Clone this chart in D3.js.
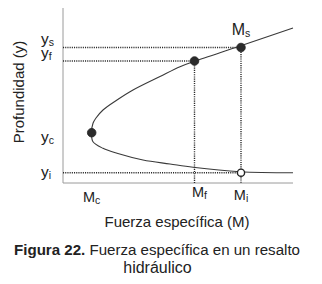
<!DOCTYPE html>
<html>
<head>
<meta charset="utf-8">
<script src="https://cdn.jsdelivr.net/npm/d3@7"></script>
<style>
  body { margin: 0; background: #fff; }
  svg { display: block; font-family: "Liberation Sans", Arial, sans-serif; }
</style>
</head>
<body>
<svg class="chart"></svg>
<script>
// Curve: specific force M against depth y (arbitrary units)
var curveM = [23.0, 17.7, 13.1, 11.7, 9.7, 7.0, 5.4, 4.0, 3.3, 3.0, 2.85, 3.0, 4.0, 5.4, 8.0, 10.7, 13.0, 17.7, 23.0];
var curveY = [15.5, 13.7, 12.15, 11.63, 10.65, 9.3, 8.3, 7.3, 6.5, 5.97, 5.0, 4.13, 3.47, 2.97, 2.3, 1.9, 1.57, 1.13, 1.03];

// Marked states on the curve
var pointNames = ['c', 'f', 's', 'i'];
var pointM = [2.87, 13.15, 17.8, 17.8];
var pointY = [5.03, 12.2, 13.55, 1.03];
var pointOpen = [false, false, false, true];

var axisTitleX = 'Fuerza específica (M)';
var axisTitleY = 'Profundidad (y)';
var captionBold = 'Figura 22.';
var captionRest = ' Fuerza específica en un resalto';
var captionLine2 = 'hidráulico';

// Global setup
var width = 322;
var height = 284;
var plot = {left: 63, right: 293, top: 8, bottom: 183};

var svg = d3.select('.chart')
  .attr('width', width)
  .attr('height', height);

var x = d3.scaleLinear().domain([0, 23]).range([plot.left, plot.right]);
var y = d3.scaleLinear().domain([0, 17.5]).range([plot.bottom, plot.top]);

var points = pointNames.map(function (n, i) {
  return {name: n, M: pointM[i], y: pointY[i], open: pointOpen[i]};
});
var byName = {};
points.forEach(function (p) { byName[p.name] = p; });

// Axes: plain lines, no ticks
svg.append('line')
  .attr('x1', x(0)).attr('x2', x(0))
  .attr('y1', y(0)).attr('y2', y(17.5))
  .attr('stroke', '#9a9a9a').attr('stroke-width', 1);
svg.append('line')
  .attr('x1', x(0)).attr('x2', x(23))
  .attr('y1', y(0)).attr('y2', y(0))
  .attr('stroke', '#9a9a9a').attr('stroke-width', 1);

// Dotted guides
var guides = [
  {x1: 0, y1: byName.s.y, x2: byName.s.M, y2: byName.s.y},
  {x1: 0, y1: byName.f.y, x2: byName.f.M, y2: byName.f.y},
  {x1: 0, y1: byName.i.y, x2: byName.i.M, y2: byName.i.y},
  {x1: byName.f.M, y1: byName.f.y, x2: byName.f.M, y2: 0},
  {x1: byName.s.M, y1: byName.s.y, x2: byName.s.M, y2: 0}
];
svg.selectAll('.guide')
  .data(guides)
  .enter()
  .append('line')
  .attr('class', 'guide')
  .attr('x1', function (d) { return x(d.x1); })
  .attr('y1', function (d) { return y(d.y1); })
  .attr('x2', function (d) { return x(d.x2); })
  .attr('y2', function (d) { return y(d.y2); })
  .attr('stroke', '#2a2a2a')
  .attr('stroke-width', 1.4)
  .attr('stroke-dasharray', '1.1,1.1');

// Curve
var line = d3.line()
  .x(function (d) { return x(d[0]); })
  .y(function (d) { return y(d[1]); })
  .curve(d3.curveCatmullRom.alpha(0.5));

svg.append('path')
  .datum(curveM.map(function (m, i) { return [m, curveY[i]]; }))
  .attr('d', line)
  .attr('fill', 'none')
  .attr('stroke', '#3a3a3a')
  .attr('stroke-width', 1.1);

// Dots
svg.selectAll('.pt')
  .data(points)
  .enter()
  .append('circle')
  .attr('class', 'pt')
  .attr('cx', function (d) { return x(d.M); })
  .attr('cy', function (d) { return y(d.y); })
  .attr('r', function (d) { return d.open ? 3.6 : 4.3; })
  .attr('fill', function (d) { return d.open ? '#fff' : '#2b2b2b'; })
  .attr('stroke', '#222')
  .attr('stroke-width', function (d) { return d.open ? 1.4 : 0.8; });

// Depth labels on the left, offsets placed by eye
var yLabelDy = {s: -4, f: -3.5, c: 8.8, i: 4};
var yLabels = svg.selectAll('.ylab')
  .data(points)
  .enter()
  .append('text')
  .attr('class', 'ylab')
  .attr('x', x(0) - 22)
  .attr('y', function (d) { return y(d.y) + yLabelDy[d.name]; })
  .attr('font-size', 15.5)
  .attr('fill', '#222');
yLabels.append('tspan').text('y');
yLabels.append('tspan')
  .attr('font-size', 10.5)
  .attr('dy', 2)
  .text(function (d) { return d.name; });

// Force labels
var mLabelY = {c: 202, f: 196.7, i: 200, s: 35};
var mLabels = svg.selectAll('.mlab')
  .data(points)
  .enter()
  .append('text')
  .attr('class', 'mlab')
  .attr('x', function (d) { return x(d.M) + (d.name === 'f' ? 5 : 0); })
  .attr('y', function (d) { return mLabelY[d.name]; })
  .attr('text-anchor', 'middle')
  .attr('font-size', function (d) { return d.name === 's' ? 16 : 14.5; })
  .attr('fill', '#222');
mLabels.append('tspan').text('M');
mLabels.append('tspan')
  .attr('font-size', 10.5)
  .attr('dy', 2)
  .text(function (d) { return d.name; });

// Axis titles
svg.append('text')
  .attr('x', 177)
  .attr('y', 227)
  .attr('text-anchor', 'middle')
  .attr('font-size', 15)
  .attr('fill', '#222')
  .text(axisTitleX);

svg.append('text')
  .attr('transform', 'translate(24,92) rotate(-90)')
  .attr('text-anchor', 'middle')
  .attr('font-size', 15)
  .attr('fill', '#222')
  .text(axisTitleY);

// Caption
var cap = svg.append('text')
  .attr('x', 14)
  .attr('y', 255)
  .attr('font-size', 15.5)
  .attr('fill', '#222')
  .attr('textLength', 286)
  .attr('lengthAdjust', 'spacingAndGlyphs');
cap.append('tspan').attr('font-weight', 'bold').text(captionBold);
cap.append('tspan').text(captionRest);

svg.append('text')
  .attr('x', 157.5)
  .attr('y', 273)
  .attr('text-anchor', 'middle')
  .attr('font-size', 16)
  .attr('fill', '#222')
  .text(captionLine2);
</script>
</body>
</html>
